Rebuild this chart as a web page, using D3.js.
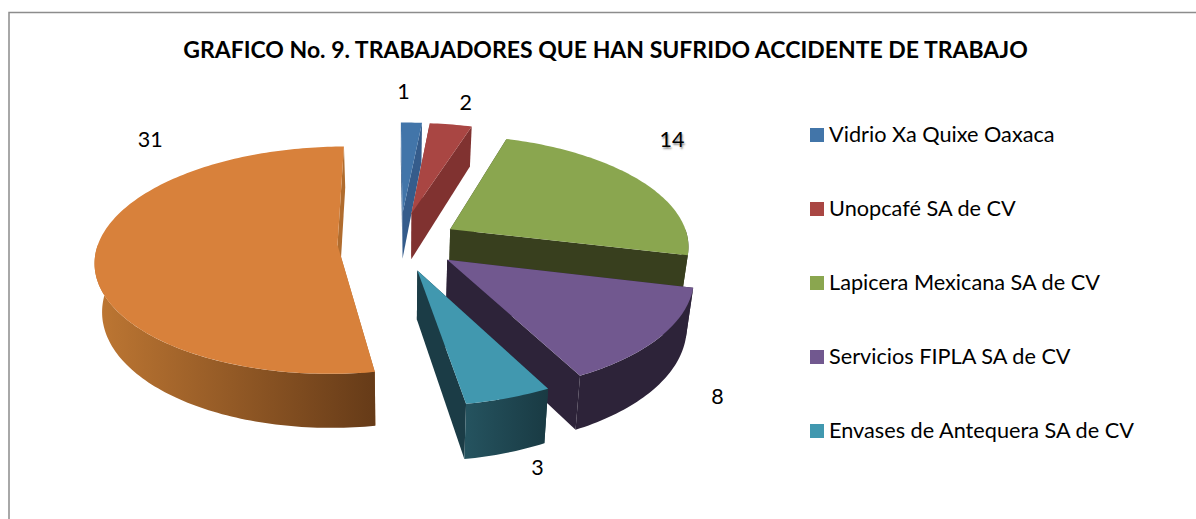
<!DOCTYPE html>
<html><head><meta charset="utf-8">
<script src="https://cdn.jsdelivr.net/npm/d3@7/dist/d3.min.js"></script>
<style>
html,body{margin:0;padding:0;background:#fff;overflow:hidden}
svg{display:block}
text{font-family:Lato,"Noto Sans",sans-serif;fill:#000}
</style></head><body>
<script>
const categories = ["Vidrio Xa Quixe Oaxaca","Unopcafé SA de CV","Lapicera Mexicana SA de CV","Servicios FIPLA SA de CV","Envases de Antequera SA de CV","Otras"];
const values = [1,2,14,8,3,31];
const legendCount = 5;
const titleText = "GRAFICO No. 9. TRABAJADORES QUE HAN SUFRIDO ACCIDENTE DE TRABAJO";

// styles
const faceColors = ["#4275A9","#A94643","#8AA64F","#71588F","#4198AF","#D8813B"];
const wallColors = ["#355C8B","#803230","#383F1E","#2D2339","#1B3C46","#B06C2E"];
const rimFrom = ["#355C8B","#803230","#383F1E","#2D2339","#25535F","#BE7733"];
const rimTo = ["#355C8B","#803230","#383F1E","#2D2339","#193A43","#663B18"];
const drawOrder = [0,1,2,5,3,4];
const labelShift = [[-8,-30.5],[15,-21.5],[34,-39.5],[58,60],[29,70.5],[55,-115]];
const sliceNudge = [[3,-3],[3,-3],[3,0],[3,0],[1,1],[-1,0]];

// layout
const W=1196,H=519, cx=397, cy=242.5, Rx=239, Ry=113, explode=0.245, persp=0.135, depth=47.5, bottomShrink=0.975, rot=-0.4*Math.PI/180;

const svg=d3.select("body").append("svg").attr("width",W).attr("height",H);
const defs=svg.append("defs");

svg.append("path").attr("d",`M9,${H}V12.5H${W}`).attr("fill","none").attr("stroke","#8c8c8c").attr("stroke-width",1.5);

const arcs=d3.pie().sort(null).value(d=>d).startAngle(rot).endAngle(rot+2*Math.PI)(values);

function proj(d,a,r,low){
  const m=(d.startAngle+d.endAngle)/2;
  const u=explode*Math.sin(m)+r*Math.sin(a), v=-explode*Math.cos(m)-r*Math.cos(a);
  const k=1+persp*v;
  return [cx+Rx*u*k*(low?bottomShrink:1)+sliceNudge[d.index][0], cy+Ry*v*k+(low?depth*k:0)+sliceNudge[d.index][1]];
}
const line=d3.line();
function rimPts(d,a0,a1,low){
  const n=Math.max(2,Math.ceil((a1-a0)/0.02));
  return d3.range(n+1).map(i=>proj(d,a0+(a1-a0)*i/n,1,low));
}

drawOrder.forEach(i=>{
  const d=arcs[i], g=svg.append("g");
  const s=d.startAngle,e=d.endAngle;
  [s,e].forEach(a=>{
    g.append("path").attr("fill",wallColors[i])
     .attr("d",line([proj(d,a,0,false),proj(d,a,1,false),proj(d,a,1,true),proj(d,a,0,true)])+"Z");
  });
  const a0=Math.max(s,Math.PI/2), a1=Math.min(e,3*Math.PI/2);
  if(a1>a0){
    const top=rimPts(d,a0,a1,false), low=rimPts(d,a0,a1,true).reverse();
    const xs=top.map(p=>p[0]);
    const gid="rim"+i;
    const gr=defs.append("linearGradient").attr("id",gid).attr("gradientUnits","userSpaceOnUse")
      .attr("x1",d3.min(xs)).attr("x2",d3.max(xs)).attr("y1",0).attr("y2",0);
    gr.append("stop").attr("offset",0).attr("stop-color",rimFrom[i]);
    gr.append("stop").attr("offset",1).attr("stop-color",rimTo[i]);
    g.append("path").attr("fill",`url(#${gid})`).attr("d",line(top.concat(low))+"Z");
  }
  g.append("path").attr("fill",faceColors[i])
   .attr("d",line([proj(d,s,0,false)].concat(rimPts(d,s,e,false)))+"Z");
});

arcs.forEach((d,i)=>{
  const m=(d.startAngle+d.endAngle)/2, p=proj(d,m,1,false);
  const t=svg.append("text").attr("x",p[0]+labelShift[i][0]).attr("y",p[1]+labelShift[i][1]+7)
    .attr("text-anchor","middle").attr("font-size",21.5).text(values[i]);
  if(values[i]===14) t.style("text-shadow","1px 2px 2px rgba(0,0,0,.45)");
});

svg.append("text").attr("x",605.5).attr("y",58).attr("text-anchor","middle")
  .attr("font-size",23).attr("font-weight",700).text(titleText);

const legendY=d3.scalePoint().domain(d3.range(legendCount)).range([135,431]);
d3.range(legendCount).forEach(i=>{
  svg.append("rect").attr("x",810).attr("y",legendY(i)-7).attr("width",14).attr("height",14).attr("fill",faceColors[i]);
  svg.append("text").attr("x",829).attr("y",legendY(i)+7).attr("font-size",21.7).text(categories[i]);
});
</script>
</body></html>
